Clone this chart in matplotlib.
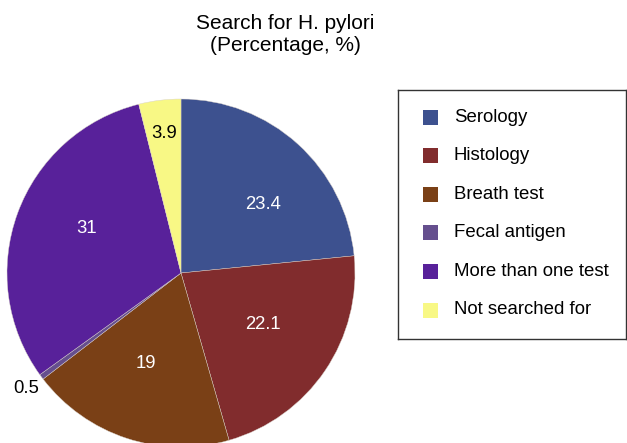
import numpy as np
import matplotlib
matplotlib.use('Agg')
import matplotlib.pyplot as plt
from matplotlib.patches import Rectangle

plt.rcParams['font.family'] = ['Liberation Sans', 'DejaVu Sans']

# dati
categories = ['Serology', 'Histology', 'Breath test', 'Fecal antigen',
              'More than one test', 'Not searched for']
values = [23.4, 22.1, 19, 0.5, 31, 3.9]
value_labels = ['23.4', '22.1', '19', '0.5', '31', '3.9']
colors = ['#3d518f', '#812c2d', '#7a4016', '#654f8e', '#58219a', '#f8f885']

# posizione etichette: distanza dal centro (frazione del raggio),
# scostamento angolare dal centro dello spicchio [gradi], colore testo
label_dist = [0.615, 0.555, 0.56, 1.11, 0.6, 0.81]
label_shift = [-7.9, 2.1, -2.8, 0.0, -5.0, 0.0]
label_color = ['white', 'white', 'white', 'black', 'white', 'black']

W, H = 627, 443
fig = plt.figure(figsize=(W / 100, H / 100), dpi=100)

# torta: centro (181, 273) px, raggio 174 px
cx, cy, r = 181, 273, 174
ax = fig.add_axes([(cx - r) / W, (H - cy - r) / H, 2 * r / W, 2 * r / H])
wedges, _ = ax.pie(values, colors=colors, startangle=90, counterclock=False,
                   radius=1.0, wedgeprops=dict(edgecolor='#d8d0c8', linewidth=0.3))
ax.set_xlim(-1, 1)
ax.set_ylim(-1, 1)
ax.set_aspect('auto')
ax.axis('off')

for w, lab, d, sh, c in zip(wedges, value_labels, label_dist, label_shift, label_color):
    ang = np.deg2rad((w.theta1 + w.theta2) / 2 + sh)
    ax.text(d * np.cos(ang), d * np.sin(ang), lab, ha='center', va='center',
            fontsize=13.3, color=c)

fig.text(285 / W, 1 - 34.5 / H, 'Search for H. pylori\n(Percentage, %)',
         ha='center', va='center', fontsize=15, linespacing=1.25)

# legenda disegnata a mano (box 398-626 x 90-339 px)
lx0, ly0, lw, lh = 398, 90, 228, 249
lax = fig.add_axes([lx0 / W, (H - ly0 - lh) / H, lw / W, lh / H])
lax.set_xlim(0, lw)
lax.set_ylim(lh, 0)
lax.set_xticks([])
lax.set_yticks([])
for s in lax.spines.values():
    s.set_linewidth(1.0)
    s.set_color('#333333')
for i, (cat, col) in enumerate(zip(categories, colors)):
    yc = 27 + i * 38.6
    lax.add_patch(Rectangle((25, yc - 7.5), 15, 15, facecolor=col, edgecolor='none'))
    lax.text(56, yc, cat, ha='left', va='center', fontsize=13.4)

fig.savefig('out.png', dpi=100)
